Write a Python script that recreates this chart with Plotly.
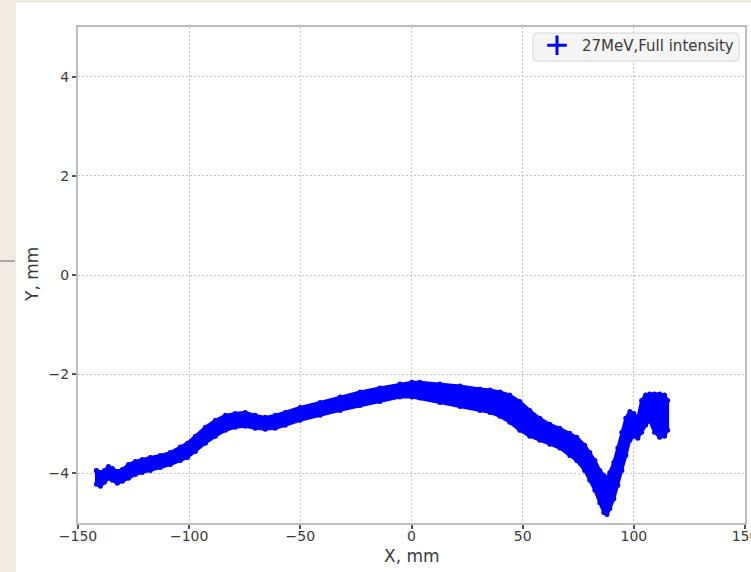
import plotly.graph_objects as go

# Beam track measured along X: envelope of the recorded centroid cloud (mm)
track_x = [-141.7, -139.9, -138.1, -136.3, -134.5, -132.3, -130.0, -127.3, -124.2, -121.1,
           -117.5, -113.0, -108.5, -104.0, -100.8, -97.2, -92.7, -88.2, -83.7, -79.3,
           -74.8, -70.3, -65.8, -61.3, -56.8, -50.1, -41.1, -32.1, -23.1, -14.2,
           -5.2, 0.2, 3.8, 12.8, 21.8, 30.8, 35.3, 39.8, 44.2, 48.7,
           53.2, 57.7, 62.2, 66.7, 71.2, 74.3, 77.9, 80.2, 82.5, 84.7,
           86.5, 87.9, 89.2, 91.0, 92.8, 94.6, 96.4, 98.2, 100.0, 101.8,
           103.5, 105.3, 107.1, 109.3, 111.6, 113.8, 115.2]
track_upper = [-3.94, -3.98, -3.94, -3.86, -3.90, -3.96, -3.92, -3.82, -3.76, -3.72,
               -3.68, -3.64, -3.58, -3.47, -3.39, -3.25, -3.07, -2.93, -2.83, -2.79,
               -2.77, -2.83, -2.87, -2.83, -2.77, -2.67, -2.57, -2.46, -2.36, -2.28,
               -2.20, -2.16, -2.16, -2.20, -2.24, -2.30, -2.32, -2.36, -2.42, -2.55,
               -2.73, -2.89, -3.01, -3.09, -3.19, -3.27, -3.43, -3.58, -3.74, -3.94,
               -4.04, -4.10, -3.98, -3.78, -3.49, -3.17, -2.89, -2.75, -2.79, -2.89,
               -2.53, -2.42, -2.40, -2.40, -2.40, -2.42, -2.53]
track_lower = [-4.22, -4.26, -4.18, -4.10, -4.14, -4.20, -4.16, -4.10, -4.02, -3.98,
               -3.94, -3.88, -3.82, -3.74, -3.68, -3.56, -3.39, -3.25, -3.13, -3.07,
               -3.05, -3.09, -3.11, -3.09, -3.03, -2.93, -2.83, -2.73, -2.63, -2.55,
               -2.46, -2.46, -2.48, -2.57, -2.65, -2.73, -2.77, -2.85, -2.97, -3.13,
               -3.25, -3.33, -3.41, -3.49, -3.64, -3.74, -3.94, -4.14, -4.34, -4.59,
               -4.79, -4.83, -4.71, -4.51, -4.24, -3.94, -3.64, -3.33, -3.25, -3.29,
               -3.17, -3.03, -2.93, -3.17, -3.27, -3.25, -3.13]

series_name = "27MeV,Full intensity"
x_ticks = [-150, -100, -50, 0, 50, 100, 150]
y_ticks = [-4, -2, 0, 2, 4]

BLUE = "#0000ff"
TXT = "#3a3a3a"
FONT = "DejaVu Sans"

band_x = track_x + track_x[::-1] + [track_x[0]]
band_y = track_upper + track_lower[::-1] + [track_upper[0]]

fig = go.Figure()
fig.add_trace(go.Scatter(
    x=band_x, y=band_y, mode="lines+markers", fill="toself",
    fillcolor=BLUE, line=dict(color=BLUE, width=3),
    marker=dict(size=5, color=BLUE),
    showlegend=False, hoverinfo="skip"))
# legend entry
fig.add_trace(go.Scatter(
    x=[None], y=[None], mode="markers", name=series_name,
    marker=dict(symbol="cross-thin", size=14, color=BLUE,
                line=dict(color=BLUE, width=3))))

W, H = 751, 572
L, R, T, B = 78, 6, 27, 49
pw, ph = W - L - R, H - T - B

def px(x):
    return (x - L) / pw

def py(y):
    return 1 - (y - T) / ph

axis_common = dict(
    showline=True, linecolor="#bdbdbd", linewidth=2, mirror=True,
    showgrid=True, gridcolor="#c4c4c4", gridwidth=1, griddash="2px,2px",
    zeroline=False, ticks="outside", ticklen=4, tickwidth=1.5, tickcolor="#555555",
    tickfont=dict(family=FONT, size=14, color=TXT),
    ticklabeloverflow="allow", automargin=False,
)

# rounded legend frame (semi-transparent, grid shows through)
lx0, lx1, ly0, ly1, r = px(533), px(739), py(33), py(61), 4
rx, ry = r / pw, r / ph
frame = (f"M {lx0 + rx},{ly0} L {lx1 - rx},{ly0} Q {lx1},{ly0} {lx1},{ly0 - ry} "
         f"L {lx1},{ly1 + ry} Q {lx1},{ly1} {lx1 - rx},{ly1} "
         f"L {lx0 + rx},{ly1} Q {lx0},{ly1} {lx0},{ly1 + ry} "
         f"L {lx0},{ly0 - ry} Q {lx0},{ly0} {lx0 + rx},{ly0} Z")

fig.update_layout(
    width=W, height=H,
    margin=dict(l=L, r=R, t=T, b=B, autoexpand=False),
    paper_bgcolor="#f1ece2",
    plot_bgcolor="#eeeeee",
    font=dict(family=FONT, color=TXT),
    xaxis=dict(range=[-150, 150], tickvals=x_ticks, ticklabelstandoff=-5, **axis_common),
    yaxis=dict(range=[-5, 5], tickvals=y_ticks, **axis_common),
    legend=dict(
        x=px(739), y=py(29), xanchor="right", yanchor="top",
        bgcolor="rgba(0,0,0,0)", borderwidth=0,
        font=dict(family=FONT, size=15, color=TXT),
        itemwidth=40,
    ),
    shapes=[
        dict(type="rect", xref="paper", yref="paper", layer="below",
             x0=px(16), x1=px(W + 5), y0=py(H + 5), y1=py(3),
             fillcolor="#ffffff", line=dict(width=0)),
        dict(type="line", xref="paper", yref="paper", layer="below",
             x0=px(0), x1=px(15), y0=py(261), y1=py(261),
             line=dict(color="#a9a9a9", width=2)),
        dict(type="path", xref="paper", yref="paper", layer="above", path=frame,
             fillcolor="rgba(242,242,242,0.8)", line=dict(color="#d6d6d6", width=1)),
    ],
    annotations=[
        dict(text="X, mm", xref="paper", yref="paper", x=px(411.5), y=py(556),
             xanchor="center", yanchor="middle", showarrow=False,
             font=dict(family=FONT, size=17, color=TXT)),
        dict(text="Y, mm", xref="paper", yref="paper", x=px(32), y=py(275),
             xanchor="center", yanchor="middle", showarrow=False, textangle=-90,
             font=dict(family=FONT, size=17, color=TXT)),
    ],
)

fig.write_html("out.html")
